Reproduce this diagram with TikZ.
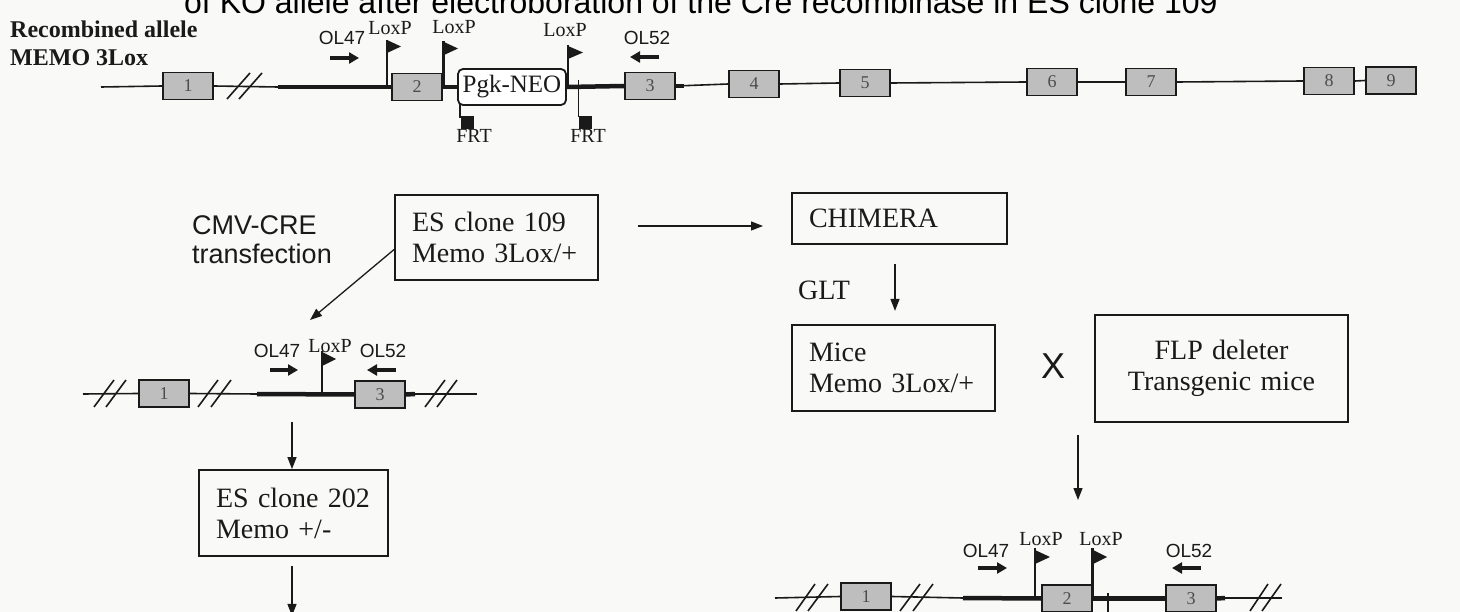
\documentclass[tikz,border=0pt]{standalone}
\usepackage{fontspec}
\setmainfont{Liberation Serif}
\newfontfamily\arialf{Liberation Sans}
\usetikzlibrary{arrows.meta}
\newcommand{\fsz}[2]{\fontsize{#1pt}{#2pt}\selectfont}
\definecolor{bgcol}{HTML}{F9F9F7}
\definecolor{exgray}{HTML}{BEBEBE}
\definecolor{ink}{HTML}{1A1A1A}
\begin{document}
\begin{tikzpicture}[x=1pt,y=-1pt,
  thinl/.style={draw=ink,line width=1.6pt},
  thickl/.style={draw=ink,line width=4.5pt},
  slash/.style={draw=ink,line width=1.6pt},
  exon/.style={draw=ink,line width=1.7pt,fill=exgray,minimum width=50pt,minimum height=27pt,inner sep=0pt,font=\fsz{18}{20}\color{black!70}},
  pgkbox/.style={draw=ink,line width=1.8pt,fill=white,rounded corners=5pt,minimum width=108pt,minimum height=36pt,inner sep=0pt,font=\fsz{25}{28},text=ink},
  flowbox/.style={draw=ink,line width=1.8pt,inner xsep=17pt,inner ysep=0pt,align=left,font=\fsz{28}{31},text=ink},
  lbl/.style={anchor=base,inner sep=0pt,font=\fsz{20}{22},text=ink},
  olbl/.style={anchor=base,inner sep=0pt,font=\arialf\fsz{19}{21},text=ink},
  primer/.style={draw=ink,line width=3.8pt,-{Triangle[length=10pt,width=11pt]}},
  flow/.style={draw=ink,line width=1.3pt,-{Triangle[length=12pt,width=9pt]}},
  flagtri/.style={fill=ink},
  frtsq/.style={fill=ink,draw=ink,line width=0.8pt}
]
\useasboundingbox (0,0) rectangle (1460,612);
\fill[bgcol] (0,0) rectangle (1460,612);
\clip (0,0) rectangle (1460,612);

% clipped title
\node[anchor=base west,inner sep=0pt,font=\arialf\fsz{32}{35},text=black] (title) at (184,14) {of KO allele after electroboration of the Cre recombinase in ES clone 109};

% ---------- top allele ----------
\node[anchor=base west,inner sep=0pt,font=\bfseries\fsz{24}{26},text=ink] (hdr1) at (10,38) {Recombined allele};
\node[anchor=base west,inner sep=0pt,font=\bfseries\fsz{24}{26},text=ink] (hdr2) at (10,66) {MEMO 3Lox};

\coordinate (t0) at (101,87);
\coordinate (tk1) at (278,87);
\node[exon] (e1) at (188,86) {1};
\node[exon] (e2) at (417,87) {2};
\node[pgkbox] (pgk) at (512,87) {Pgk-NEO};
\node[exon] (e3) at (650,86) {3};
\node[exon] (e4) at (754,84) {4};
\node[exon] (e5) at (865,83) {5};
\node[exon] (e6) at (1052,82) {6};
\node[exon] (e7) at (1151,82) {7};
\node[exon] (e8) at (1329,81) {8};
\node[exon] (e9) at (1391,80.5) {9};

\draw[thinl] (t0) -- (e1.west);
\draw[thinl] (e1.east) -- (tk1);
\draw[thickl] (tk1) -- (e2.west);
\draw[thickl] (e2.east) -- (pgk.west);
\draw[thickl] (pgk.east) -- (e3.west);
\draw[thickl] (e3.east) -- ++(8,0);
\draw[thinl] (e3.east) -- (e4.west);
\draw[thinl] (e4.east) -- (e5.west);
\draw[thinl] (e5.east) -- (e6.west);
\draw[thinl] (e6.east) -- (e7.west);
\draw[thinl] (e7.east) -- (e8.west);
\draw[thinl] (e8.east) -- (e9.west);
\draw[slash] (227,99) -- (250,73);
\draw[slash] (239,99) -- (262,73);

% LoxP flags
\coordinate (tl1) at (387,87);
\draw[thinl] (tl1) -- ++(0,-47);
\fill[flagtri] (387,40) -- (401,46.5) -- (387,53) -- cycle;
\node[lbl] (tlx1) at (390,35) {LoxP};
\coordinate (tl2) at (443.5,87);
\draw[draw=ink,line width=3pt] (tl2) -- ++(0,-46);
\fill[flagtri] (444,42) -- (458,48.5) -- (444,55) -- cycle;
\node[lbl] (tlx2) at (454,34) {LoxP};
\coordinate (tl3) at (568,87);
\draw[thinl] (tl3) -- ++(0,-42);
\fill[flagtri] (568,46) -- (583,52.5) -- (568,59) -- cycle;
\node[lbl] (tlx3) at (565,37) {LoxP};

% FRT
\draw[thinl] (pgk.south west) ++(3,-2) -- ++(0,14) coordinate (frt1);
\fill[frtsq] (461,116) rectangle (473,128);
\node[lbl] (frtl1) at (474,143) {FRT};
\coordinate (frt2top) at (578.5,80);
\draw[thinl] (frt2top) -- ++(0,37);
\fill[frtsq] (579,116) rectangle (591,128);
\node[lbl] (frtl2) at (588,143) {FRT};

% primers
\node[olbl] (tol47) at (342,45) {OL47};
\draw[primer] (330,58) -- (359,58);
\node[olbl] (tol52) at (647,45) {OL52};
\draw[primer] (659,57) -- (630,57);

% ---------- flow chart ----------
\node[anchor=base west,inner sep=0pt,font=\arialf\fsz{27}{30},text=ink] (cmv1) at (192,235) {CMV-CRE};
\node[anchor=base west,inner sep=0pt,font=\arialf\fsz{27}{30},text=ink] (cmv2) at (192,264) {transfection};

\node[flowbox,minimum width=203pt,minimum height=85pt,text width=169pt] (es109) at (496.5,237.5) {ES clone 109\\Memo 3Lox/+};
\node[flowbox,minimum width=215pt,minimum height=51pt,text width=181pt] (chim) at (899.5,218.5) {CHIMERA};
\node[flowbox,minimum width=203pt,minimum height=86pt,text width=169pt] (mice) at (893.5,368) {Mice\\Memo 3Lox/+};
\node[flowbox,minimum width=253pt,minimum height=107pt,align=center,inner xsep=4pt,text width=245pt] (flp) at (1221.5,368.5) {FLP deleter\\Transgenic mice};
\node[flowbox,minimum width=189pt,minimum height=86pt,text width=155pt] (es202) at (293.5,513) {ES clone 202\\Memo +/-};

\node[anchor=base,inner sep=0pt,font=\fsz{28}{30},text=ink] (glt) at (824,300) {GLT};
\node[anchor=base,inner sep=0pt,font=\arialf\fsz{36}{38},text=ink] (cross) at (1053,378) {X};

\coordinate (d1) at (310,320);
\draw[flow] ([yshift=-12pt]es109.west) -- (d1);
\coordinate (r1) at (638,226);
\coordinate (r2) at (763,226);
\draw[flow] (r1) -- (r2);
\draw[flow] ([xshift=-4.5pt]chim.south) ++(0,19) -- ++(0,47);
\coordinate (fd1) at (1078,435);
\draw[flow] (fd1) -- ++(0,65);
\coordinate (m2a) at (292,422);
\draw[flow] (m2a) -- (es202.north -| m2a);
\draw[flow] (es202.south -| m2a) ++(0,9) -- ++(0,50);

% ---------- middle allele (after CRE) ----------
\coordinate (m0) at (83,394);
\coordinate (mk1) at (257,394);
\coordinate (mk2) at (415,394);
\coordinate (mend) at (477,394);
\node[exon] (m1) at (164,393.5) {1};
\node[exon] (m3) at (380,394.5) {3};
\draw[thinl] (m0) -- (m1.west);
\draw[thinl] (m1.east) -- (mk1);
\draw[thickl] (mk1) -- (m3.west);
\draw[thickl] (m3.east) -- (mk2);
\draw[thinl] (mk2) -- (mend);
\draw[slash] (94,407) -- (114,380);
\draw[slash] (106,407) -- (126,380);
\draw[slash] (198,407) -- (218,380);
\draw[slash] (211,407) -- (231,380);
\draw[slash] (425,407) -- (445,380);
\draw[slash] (437,407) -- (457,380);
\coordinate (ml1) at (322,394);
\draw[thinl] (ml1) -- ++(0,-43);
\fill[flagtri] (322,352) -- (336,359) -- (322,366) -- cycle;
\node[lbl] (mlx) at (330,353) {LoxP};
\node[olbl] (mol47) at (277,358) {OL47};
\draw[primer] (270,370) -- (298,370);
\node[olbl] (mol52) at (383,358) {OL52};
\draw[primer] (396,370) -- (367,370);

% ---------- bottom allele (after FLP) ----------
\coordinate (b0) at (775,598);
\coordinate (bk1) at (963,598);
\coordinate (bk2) at (1225,598);
\coordinate (bend) at (1282,598);
\node[exon] (b1) at (866,596.5) {1};
\node[exon] (b2) at (1067,598.5) {2};
\node[exon] (b3) at (1191,598.5) {3};
\draw[thinl] (b0) -- (b1.west);
\draw[thinl] (b1.east) -- (bk1);
\draw[thickl] (bk1) -- (b2.west);
\draw[thickl] (b2.east) -- (b3.west);
\draw[thickl] (b3.east) -- (bk2);
\draw[thinl] (bk2) -- (bend);
\draw[slash] (796,611) -- (815,584);
\draw[slash] (808,611) -- (828,584);
\draw[slash] (900,611) -- (920,584);
\draw[slash] (913,611) -- (933,584);
\draw[slash] (1250,611) -- (1268,584);
\draw[slash] (1262,611) -- (1281,584);
\coordinate (bl1) at (1035,598);
\draw[thinl] (bl1) -- ++(0,-50);
\fill[flagtri] (1035,550) -- (1050,557) -- (1035,564) -- cycle;
\node[lbl] (blx1) at (1041,545) {LoxP};
\coordinate (bl2) at (1092.5,598);
\draw[draw=ink,line width=3pt] (bl2) -- ++(0,-50);
\fill[flagtri] (1093,550) -- (1107,557) -- (1093,564) -- cycle;
\node[lbl] (blx2) at (1101,545) {LoxP};
\coordinate (bfrt) at (1108,593);
\draw[thinl] (bfrt) -- ++(0,20);
\node[olbl] (bol47) at (986,557) {OL47};
\draw[primer] (978,568) -- (1007,568);
\node[olbl] (bol52) at (1189,557) {OL52};
\draw[primer] (1201,568) -- (1172,568);
\end{tikzpicture}
\end{document}
